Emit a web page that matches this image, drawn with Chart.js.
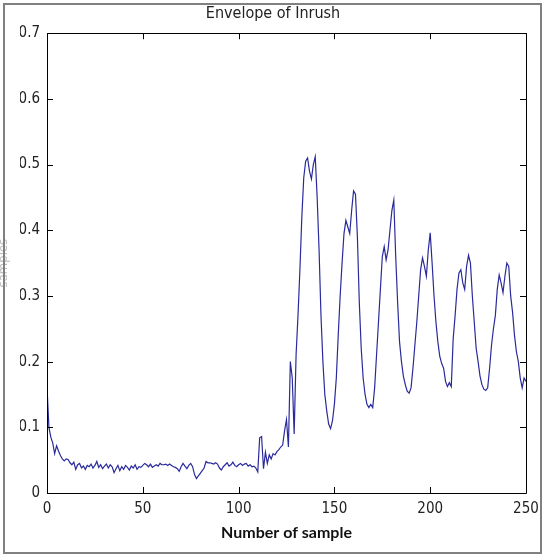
<!DOCTYPE html>
<html>
<head>
<meta charset="utf-8">
<script src="https://cdn.jsdelivr.net/npm/chart.js@4.4.0/dist/chart.umd.min.js"></script>
<style>
    body { margin: 0; background: #fff; }
    #wrap { position: relative; width: 543px; height: 554px; overflow: hidden; background: #fff; }
    #envChart { position: absolute; left: -12px; top: 0; }
    #frame { position: absolute; left: 3px; top: 3px; width: 535px; height: 547px; border: 2px solid #808080; pointer-events: none; }
</style>
</head>
<body>
<div id="wrap">
    <canvas id="envChart" width="555" height="554"></canvas>
    <div id="frame"></div>
</div>
<script>
const chartTitle = "Envelope of Inrush";
const xTitle = "Number of sample";
const yTitle = "samples";

const xTicks = [0, 50, 100, 150, 200, 250];
const yTicks = [0, 0.1, 0.2, 0.3, 0.4, 0.5, 0.6, 0.7];

// envelope value for sample 0..250
const envelope = [
    0.162, 0.100, 0.085, 0.076, 0.060, 0.072, 0.064, 0.057, 0.052, 0.049,
    0.052, 0.051, 0.046, 0.043, 0.047, 0.036, 0.043, 0.045, 0.038, 0.041,
    0.036, 0.042, 0.040, 0.044, 0.038, 0.042, 0.048, 0.039, 0.043, 0.037,
    0.041, 0.044, 0.038, 0.043, 0.040, 0.031, 0.037, 0.042, 0.034, 0.040,
    0.036, 0.042, 0.039, 0.035, 0.041, 0.038, 0.043, 0.036, 0.040, 0.039,
    0.042, 0.045, 0.043, 0.040, 0.044, 0.039, 0.041, 0.043, 0.041, 0.045,
    0.043, 0.043, 0.044, 0.042, 0.044, 0.042, 0.040, 0.039, 0.037, 0.033,
    0.040, 0.045, 0.041, 0.037, 0.042, 0.045, 0.040, 0.028, 0.022, 0.026,
    0.030, 0.034, 0.038, 0.048, 0.046, 0.046, 0.045, 0.044, 0.046, 0.044,
    0.038, 0.035, 0.040, 0.043, 0.046, 0.041, 0.043, 0.047, 0.042, 0.040,
    0.043, 0.045, 0.042, 0.044, 0.045, 0.041, 0.043, 0.040, 0.041, 0.038,
    0.032, 0.084, 0.086, 0.037, 0.062, 0.045, 0.058, 0.052, 0.060, 0.058,
    0.063, 0.066, 0.070, 0.073, 0.095, 0.112, 0.070, 0.200, 0.175, 0.090,
    0.210, 0.270, 0.340, 0.420, 0.480, 0.505, 0.510, 0.490, 0.478, 0.500,
    0.512, 0.450, 0.370, 0.270, 0.200, 0.150, 0.125, 0.105, 0.098, 0.110,
    0.135, 0.175, 0.240, 0.300, 0.350, 0.395, 0.415, 0.405, 0.395, 0.430,
    0.460, 0.455, 0.390, 0.290, 0.220, 0.175, 0.150, 0.135, 0.130, 0.135,
    0.130, 0.160, 0.210, 0.260, 0.310, 0.360, 0.375, 0.355, 0.370, 0.400,
    0.430, 0.446, 0.360, 0.290, 0.230, 0.200, 0.178, 0.165, 0.155, 0.152,
    0.160, 0.190, 0.225, 0.260, 0.300, 0.340, 0.358, 0.345, 0.330, 0.370,
    0.396, 0.350, 0.300, 0.260, 0.230, 0.208, 0.197, 0.190, 0.170, 0.162,
    0.168, 0.162, 0.235, 0.270, 0.310, 0.335, 0.340, 0.320, 0.310, 0.345,
    0.362, 0.350, 0.300, 0.260, 0.220, 0.200, 0.178, 0.165, 0.158, 0.156,
    0.160, 0.190, 0.225, 0.250, 0.270, 0.310, 0.332, 0.320, 0.305, 0.330,
    0.350, 0.345, 0.300, 0.275, 0.240, 0.215, 0.200, 0.175, 0.160, 0.175,
    0.170
];

const tickFont = { family: "'DejaVu Sans Condensed', 'Liberation Sans', sans-serif", size: 15, weight: "normal" };

// matlab style box with ticks pointing inward
const boxTicks = {
    id: "boxTicks",
    afterDraw(chart) {
        const { ctx, chartArea: a, scales } = chart;
        const len = 6;
        ctx.save();
        ctx.strokeStyle = "#000";
        ctx.lineWidth = 1;
        ctx.beginPath();
        ctx.rect(Math.round(a.left) + 0.5, Math.round(a.top) + 0.5,
            Math.round(a.right - a.left), Math.round(a.bottom - a.top));
        xTicks.forEach(v => {
            const x = Math.round(scales.x.getPixelForValue(v)) + 0.5;
            ctx.moveTo(x, a.bottom);
            ctx.lineTo(x, a.bottom - len);
            ctx.moveTo(x, a.top);
            ctx.lineTo(x, a.top + len);
        });
        yTicks.forEach(v => {
            const y = Math.round(scales.y.getPixelForValue(v)) + 0.5;
            ctx.moveTo(a.left, y);
            ctx.lineTo(a.left + len, y);
            ctx.moveTo(a.right, y);
            ctx.lineTo(a.right - len, y);
        });
        ctx.stroke();
        ctx.restore();
    }
};

new Chart(document.getElementById("envChart"), {
    type: "line",
    data: {
        datasets: [{
            data: envelope.map((v, i) => ({ x: i, y: v })),
            borderColor: "#2a2a9c",
            borderWidth: 1.2,
            pointRadius: 0,
            tension: 0,
            fill: false
        }]
    },
    options: {
        responsive: false,
        animation: false,
        devicePixelRatio: 1,
        layout: { padding: { left: 32, right: 17, top: 0, bottom: 0 } },
        plugins: {
            legend: { display: false },
            tooltip: { enabled: false },
            title: {
                display: true,
                text: chartTitle,
                color: "#222",
                font: { family: "'DejaVu Sans Condensed', sans-serif", size: 16, weight: "normal" },
                padding: { top: 4, bottom: 10 }
            }
        },
        scales: {
            x: {
                type: "linear",
                min: 0,
                max: 250,
                afterBuildTicks: s => { s.ticks = xTicks.map(v => ({ value: v })); },
                afterFit: s => { s.height = 61; s.paddingLeft = 0; s.paddingRight = 0; },
                grid: { display: false, drawTicks: false },
                border: { display: false },
                ticks: { color: "#222", font: tickFont, padding: 7, maxRotation: 0 },
                title: {
                    display: true,
                    text: xTitle,
                    color: "#111",
                    font: { family: "Lato, 'Open Sans', sans-serif", size: 16, weight: "bold" },
                    padding: { top: 0, bottom: 12 }
                }
            },
            y: {
                min: 0,
                max: 0.7,
                afterBuildTicks: s => { s.ticks = yTicks.map(v => ({ value: v })); },
                afterFit: s => { s.width = 27; s.paddingTop = 0; s.paddingBottom = 0; },
                grid: { display: false, drawTicks: false },
                border: { display: false },
                ticks: { color: "#222", font: tickFont, padding: 7 },
                title: {
                    display: true,
                    text: yTitle,
                    color: "#bbb",
                    font: { family: "'DejaVu Sans Condensed', sans-serif", size: 13 },
                    padding: { top: -24, bottom: 0 }
                }
            }
        }
    },
    plugins: [boxTicks]
});
</script>
</body>
</html>
